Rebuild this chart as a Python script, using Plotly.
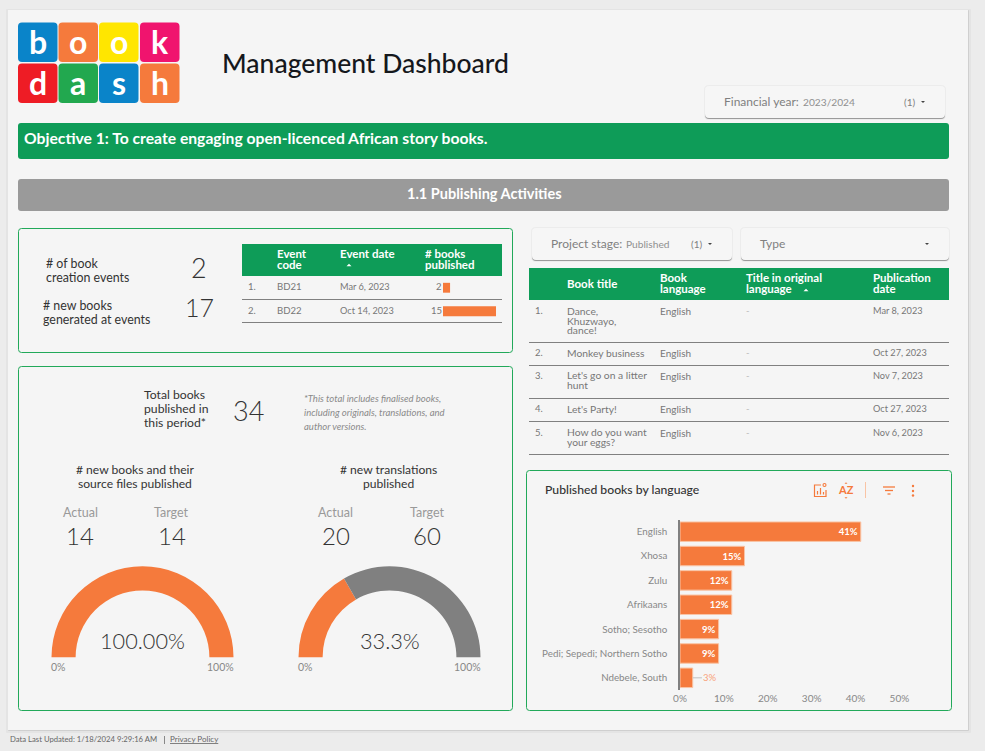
import plotly.graph_objects as go

W, H = 985, 751
FONT = "Lato"
ORANGE = "#f57a3c"
GREEN = "#0e9c58"
BORDER = "#22a95a"
PAGE = "#f5f5f5"
GREY_TXT = "#777777"
DARK_TXT = "#333333"

# logo
logo_letters = ["b", "o", "o", "k", "d", "a", "s", "h"]
logo_colors = ["#0a84c9", "#f57a3c", "#ffe600", "#f0146e", "#ee1c25", "#22a84f", "#0a84c9", "#f57a3c"]

# event table
event_codes = ["BD21", "BD22"]
event_dates = ["Mar 6, 2023", "Oct 14, 2023"]
event_books = [2, 15]

# book table
book_titles = ["Dance,\nKhuzwayo,\ndance!", "Monkey business", "Let's go on a litter\nhunt", "Let's Party!", "How do you want\nyour eggs?"]
book_langs = ["English", "English", "English", "English", "English"]
book_orig = ["-", "-", "-", "-", "-"]
book_dates = ["Mar 8, 2023", "Oct 27, 2023", "Nov 7, 2023", "Oct 27, 2023", "Nov 6, 2023"]

# language chart
languages = ["English", "Xhosa", "Zulu", "Afrikaans", "Sotho; Sesotho", "Pedi; Sepedi; Northern Sotho", "Ndebele, South"]
language_share = [41.2, 14.7, 11.8, 11.8, 8.8, 8.8, 2.9]
language_labels = ["41%", "15%", "12%", "12%", "9%", "9%", "3%"]

# gauges
gauge_names = ["# new books and their\nsource files published", "# new translations\npublished"]
gauge_actual = [14, 20]
gauge_target = [14, 60]
gauge_text = ["100.00%", "33.3%"]

# kpis
book_events = 2
new_books = 17
total_books = 34

# where the table rows sit on the page
event_row_y = [287.5, 311]
event_line_y = [299.5, 322.5]
book_row_y = [311.5, 353.5, 376.5, 409.5, 433.5]
book_line_y = [342.5, 365.5, 398.5, 421.5, 454.5]

shapes = []
notes = []


def rrect(x0, y0, x1, y1, r=3):
    return (f"M{x0+r},{y0} L{x1-r},{y0} Q{x1},{y0} {x1},{y0+r} L{x1},{y1-r} Q{x1},{y1} {x1-r},{y1} "
            f"L{x0+r},{y1} Q{x0},{y1} {x0},{y1-r} L{x0},{y0+r} Q{x0},{y0} {x0+r},{y0} Z")


def box(x0, y0, x1, y1, fill=PAGE, line=None, r=3, lw=1):
    shapes.append(dict(type="path", path=rrect(x0, y0, x1, y1, r), xref="x", yref="y", layer="below",
                       fillcolor=fill, line=dict(color=line or "rgba(0,0,0,0)", width=lw if line else 0)))


def hline(x0, x1, y, color="#808080", w=1):
    shapes.append(dict(type="line", x0=x0, x1=x1, y0=y, y1=y, xref="x", yref="y", layer="below",
                       line=dict(color=color, width=w)))


def vline(x, y0, y1, color="#808080", w=1):
    shapes.append(dict(type="line", x0=x, x1=x, y0=y0, y1=y1, xref="x", yref="y", layer="below",
                       line=dict(color=color, width=w)))


def tri(x, y, size=2.5, up=False, color="#444444"):
    d = -size if up else size
    shapes.append(dict(type="path", path=f"M{x-size},{y-d/2} L{x+size},{y-d/2} L{x},{y+d/2} Z", xref="x", yref="y",
                       layer="below", fillcolor=color, line=dict(width=0)))


def label(x, y, text, size=10, color=GREY_TXT, anchor="left", lh=None, weight=400, italic=False):
    lines = str(text).split("\n")
    # plotly spaces <br> lines by 1.3em of the base font, so the base size sets the line height
    base = size
    txt = lines[0]
    if len(lines) > 1:
        base = (lh or size * 1.2) / 1.3
        txt = "<br>".join(f'<span style="font-size:{size}px">{line}</span>' for line in lines)
        y = y + (len(lines) - 1) * (lh or size * 1.2) / 2
    notes.append(dict(x=x, y=y, text=txt, xref="x", yref="y", showarrow=False, align=anchor,
                      xanchor=anchor, yanchor="middle", borderpad=0, yshift=1,
                      xshift={"left": -1.5, "right": 1, "center": 0}[anchor],
                      font=dict(family=FONT, size=base, color=color, weight=weight,
                                style="italic" if italic else "normal")))


def chip(x0, y0, x1, y1, name, value, value_x, count=True):
    box(x0 - 1, y0 - 1, x1 + 1, y1 + 2, fill="#ececec", r=5)
    box(x0, y0 + 2, x1, y1 + 1, fill="#9b9b9b", r=4)
    box(x0, y0, x1, y1, fill="#f6f6f6", r=4)
    label(x0 + 19, (y0 + y1) / 2 + .5, name, size=12, color="#808080")
    if value:
        label(value_x, (y0 + y1) / 2 + .5, value, size=10.2, color="#909090")
    if count:
        label(x1 - 41, (y0 + y1) / 2 + .5, "(1)", size=10, color="#808080")
    tri(x1 - 22, (y0 + y1) / 2, size=2)


# page and its shadow
box(6, 9, 971, 733, fill="#e4e4e4", r=1)
box(8, 10, 969, 731, fill="#cfcfcf", r=1)
box(8, 10, 968, 730, r=0)

# logo tiles
tile_x = [18, 58.5, 99, 140]
tile_y = [22.5, 63.5]
for i, letter in enumerate(logo_letters):
    tx = tile_x[i % 4]
    ty = tile_y[i // 4]
    box(tx, ty, tx + 39.5, ty + 39.5, fill=logo_colors[i], r=4)
    label(tx + 19.7, ty + 19.5, letter, size=32, color="white", anchor="center", weight=700)

label(222, 64, "Management Dashboard", size=26.5, color="#15181c", weight=500)

chip(705, 86, 945, 118, "Financial year:", "2023/2024", 803)

# banners
box(18, 123, 949, 159, fill=GREEN)
label(24.5, 139, "Objective 1: To create engaging open-licenced African story books.", size=15.7, color="white", weight=700)
box(18, 179, 949, 211, fill="#9a9a9a")
label(484, 194, "1.1 Publishing Activities", size=14.5, color="white", anchor="center", weight=700)

# cards
box(18.5, 228.5, 512.5, 352.5, line=BORDER)
box(18.5, 366.5, 512.5, 710.5, line=BORDER)
box(526.5, 470.5, 951.5, 710.5, line=BORDER)

# kpis
label(46.5, 264, "# of book\ncreation events", size=12.4, color=DARK_TXT, lh=14)
label(198.5, 268, book_events, size=27, color="#333333", anchor="center", weight=300)
label(43, 306, "# new books\ngenerated at events", size=12.4, color=DARK_TXT, lh=14)
label(199, 308, new_books, size=25, color="#333333", anchor="center", weight=300)

# event table
box(242, 244, 502, 276, fill=GREEN, r=0)
label(277, 254.5, "Event\ncode", size=11.5, color="white", lh=11, weight=700)
label(340, 254.5, "Event date", size=11.5, color="white", weight=700)
tri(349, 265, size=2.5, up=True, color="white")
label(425, 254.5, "# books\npublished", size=11.5, color="white", lh=11, weight=700)
for i, code in enumerate(event_codes):
    label(248.5, event_row_y[i], f"{i+1}.", size=9.5)
    label(277, event_row_y[i], code, size=9.6)
    label(340, event_row_y[i], event_dates[i], size=9.2)
    label(441.5, event_row_y[i], event_books[i], size=9.5, anchor="right")
    hline(242, 502, event_line_y[i])

# total block
label(144, 395, "Total books\npublished in\nthis period*", size=12.2, color=DARK_TXT, lh=14)
label(248, 411, total_books, size=27, color="#333333", anchor="center", weight=300)
label(304, 399, "*This total includes finalised books,\nincluding originals, translations, and\nauthor versions.", size=9.5,
      color="#8a8a8a", lh=14, italic=True)

# gauge texts
centres = [142.5, 389.5]
head_x = [135, 388]
actual_x = [80, 335.5]
target_x = [171.5, 427]
for i in range(2):
    label(head_x[i], 470, gauge_names[i], size=12.1, color=DARK_TXT, anchor="center", lh=14)
    label(actual_x[i], 513, "Actual", size=12.5, color="#999999", anchor="center")
    label(target_x[i], 513, "Target", size=12.5, color="#999999", anchor="center")
    label(actual_x[i], 536, gauge_actual[i], size=24, color="#333333", anchor="center", weight=300)
    label(target_x[i], 536, gauge_target[i], size=24, color="#333333", anchor="center", weight=300)
    label(centres[i], 642, gauge_text[i], size=21.7, color="#333333", anchor="center", weight=300)
    label(centres[i] - 91, 668, "0%", size=10.5, color="#888888")
    label(centres[i] + 91, 668, "100%", size=10.5, color="#888888", anchor="right")

# filters and book table
chip(532, 228, 732, 260, "Project stage:", "Published", 626)
chip(741, 228, 949, 260, "Type", None, 0, count=False)

box(529, 268, 949, 300, fill=GREEN, r=0)
label(567, 284, "Book title", size=11.5, color="white", weight=700)
label(660, 278.5, "Book\nlanguage", size=11.5, color="white", lh=11, weight=700)
label(746.5, 278.5, "Title in original\nlanguage", size=11.5, color="white", lh=11, weight=700)
tri(806, 290, size=2.5, up=True, color="white")
label(873, 278.5, "Publication\ndate", size=11.5, color="white", lh=11, weight=700)
for i, title in enumerate(book_titles):
    label(535, book_row_y[i], f"{i+1}.", size=9.5)
    label(567, book_row_y[i], title, size=10.3, lh=9.7)
    label(660.5, book_row_y[i], book_langs[i], size=10)
    label(746.5, book_row_y[i], book_orig[i], size=9.5, color="#bbbbbb")
    label(873, book_row_y[i], book_dates[i], size=9.2)
    hline(529, 949, book_line_y[i])

# chart header with its toolbar
label(545, 490, "Published books by language", size=12.2, color="#333333", weight=500)
ICON = "#f57a3c"
shapes.append(dict(type="path", path="M821,485 L814.5,485 L814.5,496.5 L826,496.5 L826,490 M817.5,494.5 L817.5,491 M820.5,494.5 L820.5,488 M823.5,494.5 L823.5,492",
                   xref="x", yref="y", layer="below", line=dict(color=ICON, width=1.2)))
shapes.append(dict(type="circle", x0=823, x1=826, y0=483.5, y1=486.5, xref="x", yref="y", layer="below",
                   line=dict(color=ICON, width=1.1)))
label(846, 490.5, "AZ", size=11, color=ICON, anchor="center", weight=700)
tri(846, 483, size=1.5, up=True, color=ICON)
tri(846, 498, size=1.5, color=ICON)
vline(865.5, 482, 498, color="#f9c4a5")
hline(883, 895, 487, color=ICON, w=1.3)
hline(885, 893, 490.5, color=ICON, w=1.3)
hline(887.5, 890.5, 494, color=ICON, w=1.3)
for dot_y in [486, 491, 495.5]:
    shapes.append(dict(type="circle", x0=911.8, x1=914.2, y0=dot_y - 1.2, y1=dot_y + 1.2, xref="x", yref="y", layer="below",
                       fillcolor=ICON, line=dict(width=0)))

# small label next to the last bar, with its leader
shapes.append(dict(type="line", x0=language_share[6], x1=5.0, y0=languages[6], y1=languages[6], xref="x2", yref="y2",
                   line=dict(color="#c0c0c0", width=1)))
notes.append(dict(x=5.1, y=languages[6], text=language_labels[6], xref="x2", yref="y2", showarrow=False, xanchor="left",
                  borderpad=0, font=dict(family=FONT, size=9.5, color="#f9a27a")))

# footer
label(10.5, 740, "Data Last Updated: 1/18/2024 9:29:16 AM", size=7.7, color="#666666")
vline(164.5, 736, 744, color="#888888")
label(170, 740, "<u>Privacy Policy</u>", size=8, color="#666666")


def xd(px):
    return px / W


def yd(py):
    return 1 - py / H


fig = go.Figure()

# empty trace so the page axis exists
fig.add_trace(go.Scatter(x=[0, W], y=[0, H], mode="markers", marker=dict(opacity=0), hoverinfo="skip",
                         showlegend=False, xaxis="x", yaxis="y"))

bar_text = language_labels[:6] + [""]
fig.add_trace(go.Bar(y=languages, x=language_share, orientation="h", xaxis="x2", yaxis="y2",
                     marker=dict(color=ORANGE, line=dict(color="#f9c4a5", width=1)),
                     text=bar_text, textposition="inside", insidetextanchor="end", textangle=0,
                     constraintext="none", textfont=dict(family=FONT, size=9.5, color="white", weight=700),
                     showlegend=False, hoverinfo="skip"))

fig.add_trace(go.Bar(y=event_codes, x=event_books, orientation="h", xaxis="x3", yaxis="y3", width=0.42,
                     marker=dict(color=ORANGE, line=dict(width=0)), showlegend=False, hoverinfo="skip"))

for i in range(2):
    share = gauge_actual[i] / gauge_target[i] * 100
    fig.add_trace(go.Pie(values=[share, 100 - share, 100], sort=False, direction="clockwise", rotation=-90,
                         hole=0.735, textinfo="none", hoverinfo="skip", showlegend=False,
                         marker=dict(colors=[ORANGE, "#808080", "rgba(0,0,0,0)"], line=dict(width=0)),
                         domain=dict(x=[xd(centres[i] - 91), xd(centres[i] + 91)], y=[yd(748.3), yd(566.3)])))

fig.update_layout(
    width=W, height=H, margin=dict(l=0, r=0, t=0, b=0),
    paper_bgcolor="#ececec", plot_bgcolor="rgba(0,0,0,0)",
    font=dict(family=FONT, color=GREY_TXT),
    bargap=0.2,
    shapes=shapes, annotations=notes,
    xaxis=dict(domain=[0, 1], range=[0, W], visible=False, fixedrange=True, automargin=False),
    yaxis=dict(domain=[0, 1], range=[H, 0], visible=False, fixedrange=True, automargin=False),
    xaxis2=dict(domain=[xd(680), xd(899.4)], range=[0, 50], anchor="y2", tickvals=[0, 10, 20, 30, 40, 50],
                ticktext=["0%", "10%", "20%", "30%", "40%", "50%"], showgrid=False, zeroline=False, showline=False,
                ticks="", tickfont=dict(family=FONT, size=10, color="#888888"), ticklabelstandoff=1, automargin=False),
    yaxis2=dict(domain=[yd(690), yd(519.5)], autorange="reversed", anchor="x2", showgrid=False, showline=True,
                linecolor="#808080", linewidth=1.5, zeroline=False, ticks="", ticklabelstandoff=9, automargin=False,
                tickfont=dict(family=FONT, size=9.8, color="#888888")),
    xaxis3=dict(domain=[xd(443), xd(496)], range=[0, 15], anchor="y3", visible=False, automargin=False),
    yaxis3=dict(domain=[yd(323), yd(276)], autorange="reversed", anchor="x3", visible=False, automargin=False),
    barmode="overlay",
)

# the page body has a default margin, drop it so the figure fills the window
fig.write_html("out.html", config={"displayModeBar": False},
               post_script="document.body.style.margin='0';document.body.style.overflow='hidden';")
